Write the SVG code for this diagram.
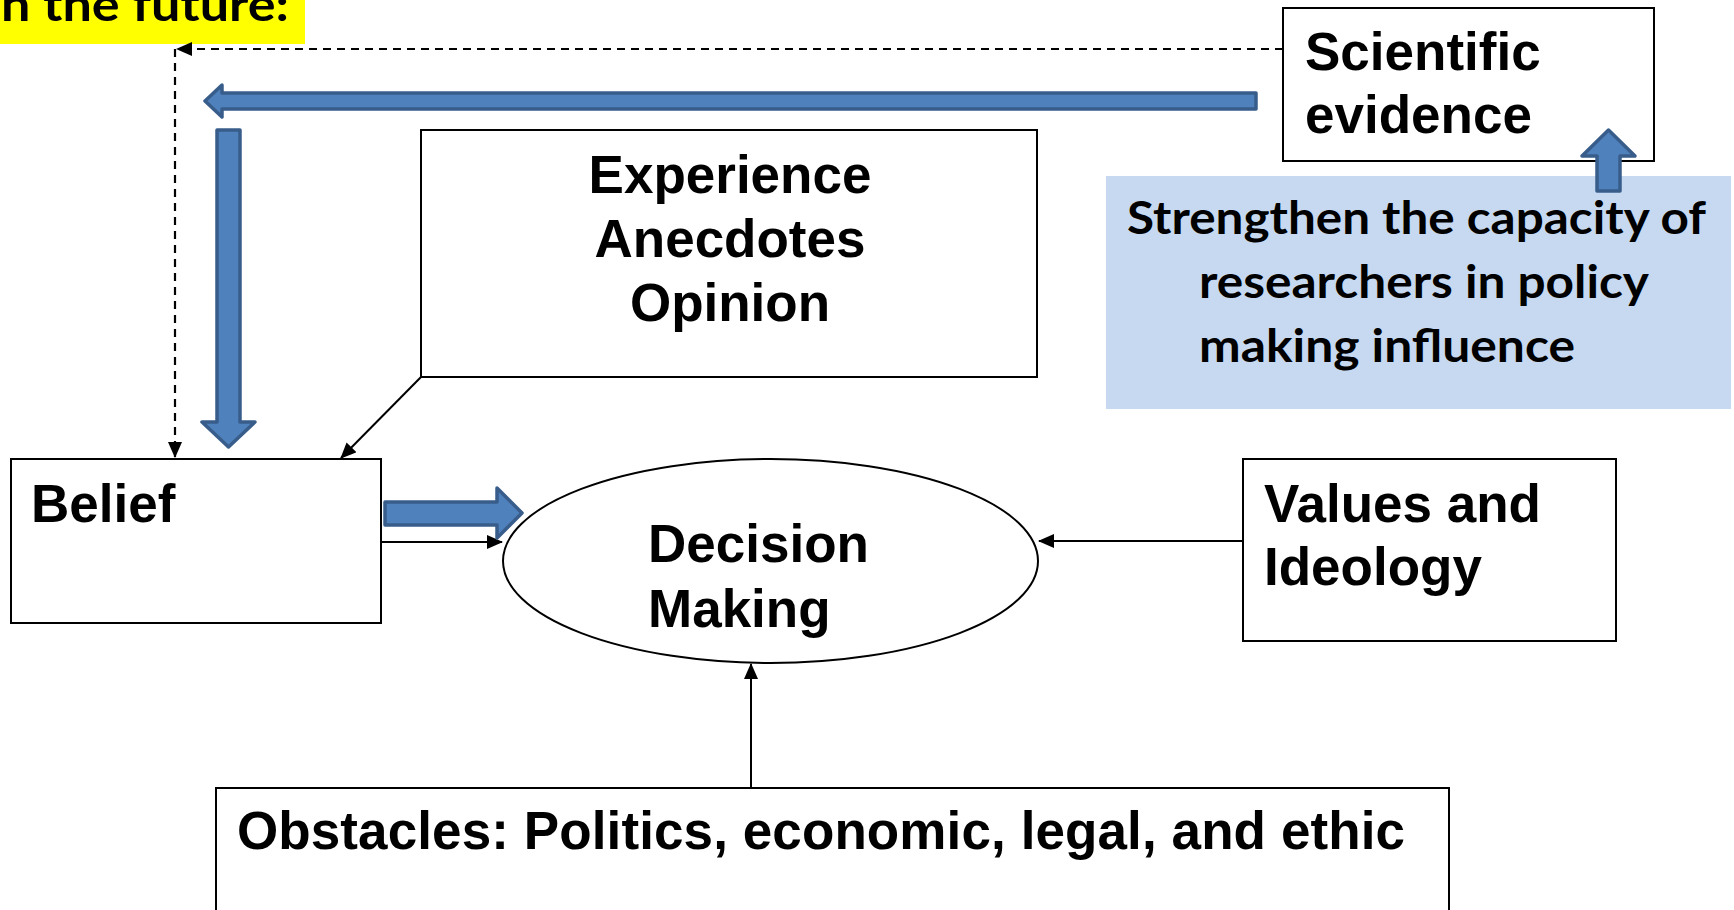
<svg xmlns="http://www.w3.org/2000/svg" width="1734" height="910" viewBox="0 0 1734 910">
<style>
.box{fill:#fff;stroke:#000;stroke-width:2}
.t{font-family:"Liberation Sans",Arial,sans-serif;font-weight:bold;font-size:53px;fill:#000}
.c{font-family:Lato,"Open Sans",sans-serif;font-weight:bold;font-size:46px;fill:#000}
.line{fill:none;stroke:#000;stroke-width:2}
.dash{fill:none;stroke:#000;stroke-width:2.2;stroke-dasharray:8 6}
.blk{fill:#4F81BD;stroke:#385D8A;stroke-width:3.5;stroke-linejoin:round}
</style>
<defs>
<marker id="ah" markerUnits="userSpaceOnUse" markerWidth="16" markerHeight="14" refX="15" refY="7" orient="auto">
<path d="M0,0 L16,7 L0,14 Z" fill="#000"/>
</marker>
</defs>
<rect width="1734" height="910" fill="#fff"/>

<g id="note">
<rect x="0" y="0" width="305" height="44" fill="#FFFF00"/>
<text class="c" x="1" y="21" textLength="288" lengthAdjust="spacingAndGlyphs">n the future:</text>
</g>

<g id="scientific">
<rect class="box" x="1283" y="8" width="371" height="153"/>
<text class="t" x="1305" y="70">Scientific</text>
<text class="t" x="1305" y="133">evidence</text>
</g>

<g id="strengthen">
<rect x="1106" y="176" width="625" height="233" fill="#C6D9F1"/>
<text class="c" x="1127" y="234" textLength="579" lengthAdjust="spacingAndGlyphs">Strengthen the capacity of</text>
<text class="c" x="1199" y="298" textLength="450" lengthAdjust="spacingAndGlyphs">researchers in policy</text>
<text class="c" x="1199" y="362" textLength="376" lengthAdjust="spacingAndGlyphs">making influence</text>
</g>

<g id="experience">
<rect class="box" x="421" y="130" width="616" height="247"/>
<text class="t" x="730" y="193" text-anchor="middle">Experience</text>
<text class="t" x="730" y="257" text-anchor="middle">Anecdotes</text>
<text class="t" x="730" y="321" text-anchor="middle">Opinion</text>
</g>

<g id="belief">
<rect class="box" x="11" y="459" width="370" height="164"/>
<text class="t" x="31" y="522">Belief</text>
</g>

<g id="decision">
<ellipse cx="770.5" cy="561" rx="267.5" ry="102" fill="#fff" stroke="#000" stroke-width="2"/>
<text class="t" x="648" y="562">Decision</text>
<text class="t" x="648" y="627">Making</text>
</g>

<g id="values">
<rect class="box" x="1243" y="459" width="373" height="182"/>
<text class="t" x="1264" y="522">Values and</text>
<text class="t" x="1264" y="585">Ideology</text>
</g>

<g id="obstacles">
<rect class="box" x="216" y="788" width="1233" height="140"/>
<text class="t" x="237" y="849" textLength="1168" lengthAdjust="spacing">Obstacles: Politics, economic, legal, and ethic</text>
</g>

<g id="connectors">
<path class="dash" d="M1283,49 H177" marker-end="url(#ah)"/>
<path class="dash" d="M175,49 V457" marker-end="url(#ah)"/>
<path class="line" d="M421,377 L341,458" marker-end="url(#ah)"/>
<path class="line" d="M381,542 H502" marker-end="url(#ah)"/>
<path class="line" d="M1243,541 H1039" marker-end="url(#ah)"/>
<path class="line" d="M751,788 V664" marker-end="url(#ah)"/>
<polygon class="blk" points="1256,93 222,93 222,85 205,101 222,117 222,109 1256,109"/>
<polygon class="blk" points="217,130 240,130 240,422 255,422 228.5,447 202,422 217,422"/>
<polygon class="blk" points="385,502 497,502 497,488 522,513 497,538 497,525 385,525"/>
<polygon class="blk" points="1597,191 1597,156 1582,156 1608.5,130 1635,156 1620,156 1620,191"/>
</g>
</svg>
